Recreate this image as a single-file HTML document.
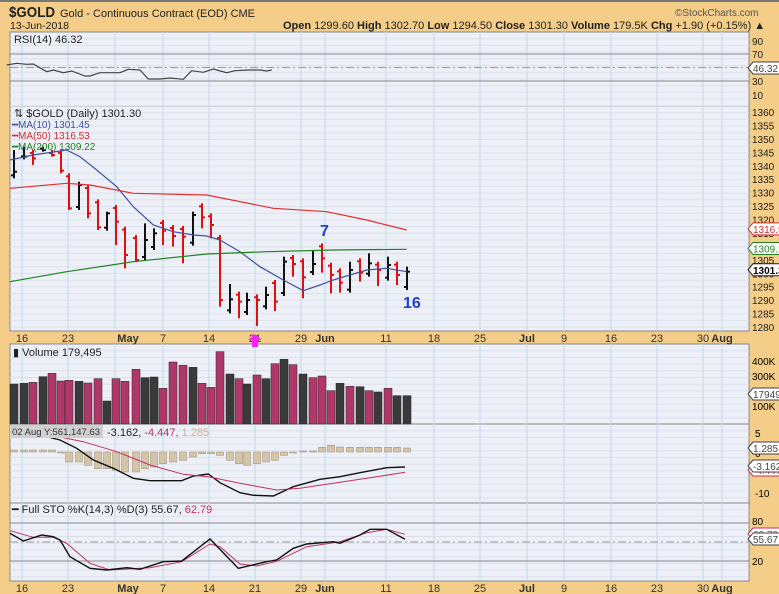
<!DOCTYPE html>
<html><head><meta charset="utf-8"><style>
body{margin:0;background:#f4cd88;}
svg{display:block;font-family:"Liberation Sans",sans-serif;}
</style></head><body>
<svg id="s" width="779" height="594" xmlns="http://www.w3.org/2000/svg"></svg>
<script>
const S=document.getElementById('s');let h='';
const L=10,R=749;
h+=`<rect width="779" height="594" fill="#f4cd88"/><rect width="779" height="2" fill="#777"/>`;
const P=[[32,106],[106,331],[344,424],[424,503],[503,581]];
P.forEach(p=>{h+=`<rect x="${L}" y="${p[0]}" width="${R-L}" height="${p[1]-p[0]}" fill="#eef0f8" stroke="#888" stroke-width="1"/>`;});
function hg(y0,y1,st){for(let y=y0+st;y<y1;y+=st)h+=`<line x1="${L}" x2="${R}" y1="${y}" y2="${y}" stroke="#dde0ec" stroke-width="1"/>`;}
P.forEach(p=>hg(p[0],p[1],6.7));
const vx=[22,68,115,163,209,255,301,325,386,434,480,527,564,611,657,703,722];
P.forEach(p=>vx.forEach(x=>{h+=`<line x1="${x}" x2="${x}" y1="${p[0]}" y2="${p[1]}" stroke="#bcdcee" stroke-width="1"/>`;}));
h+=`<text x="9" y="17" font-size="15" font-weight="bold" fill="#222" textLength="46" lengthAdjust="spacingAndGlyphs">$GOLD</text>`;
h+=`<text x="60" y="17" font-size="11" fill="#222">Gold - Continuous Contract (EOD) CME</text>`;
h+=`<text x="675" y="16" font-size="10" fill="#555">©StockCharts.com</text>`;
h+=`<text x="10" y="29" font-size="10.5" fill="#222">13-Jun-2018</text>`;
h+=`<text x="283" y="29" font-size="11" fill="#222"><tspan font-weight="bold">Open</tspan> 1299.60 <tspan font-weight="bold">High</tspan> 1302.70 <tspan font-weight="bold">Low</tspan> 1294.50 <tspan font-weight="bold">Close</tspan> 1301.30 <tspan font-weight="bold">Volume</tspan> 179.5K <tspan font-weight="bold">Chg</tspan> +1.90 (+0.15%) ▲</text>`;
[[54,'#888'],[81,'#888']].forEach(a=>h+=`<line x1="${L}" x2="${R}" y1="${a[0]}" y2="${a[0]}" stroke="${a[1]}"/>`);
h+=`<line x1="${L}" x2="${R}" y1="67.5" y2="67.5" stroke="#999" stroke-dasharray="8,3,2,3"/>`;
h+=`<text x="14" y="43" font-size="11" fill="#222">RSI(14) 46.32</text>`;
[[90,45],[70,58],[30,85],[10,99]].forEach(a=>h+=`<text x="752" y="${a[1]}" font-size="10" fill="#222">${a[0]}</text>`);
function pl(pts,c,w,sc){let s=pts.map(p=>[p[0]/3,p[1]/3+sc]).map(p=>p[0].toFixed(1)+','+p[1].toFixed(1)).join(' ');h+=`<polyline points="${s}" fill="none" stroke="${c}" stroke-width="${w}"/>`;}
pl([[20,195],[50,190],[80,193],[100,192],[140,215],[160,210],[190,218],[215,213],[255,228],[270,228],[300,218],[330,218],[360,218],[385,208],[420,210],[445,237],[480,237],[510,234],[550,238],[575,212],[610,217],[640,207],[680,218],[705,212],[745,210],[780,210],[800,213],[815,210]],'#444',1.2,0);
function box(x,y,t,c,bg){h+=`<path d="M${x},${y} l5,-6 h30 v12 h-30 z" fill="${bg||'#fff'}" stroke="${c}"/><text x="${x+5}" y="${y+4}" font-size="10" fill="${c=='#888'?'#222':c}">${t}</text>`;}
box(748,68,'46.32','#444');
const py=p=>112+(1360-p)*2.6875;
for(let p=1280;p<=1360;p+=5){h+=`<text x="752" y="${py(p)+4}" font-size="10" fill="#222">${p}</text>`;}
const bx=[14,24,33,43,52,61,69,79,88,98,107,116,125,136,145,154,163,173,183,193,202,211,220,230,239,247,257,266,275,284,293,303,313,322,331,340,350,360,369,378,388,397,407];
const B=[[150,235,215,'k'],[140,178,170,'k'],[150,195,175,'r'],[140,155,150,'k'],[150,170,165,'r'],[150,220,212,'r'],[220,330,325,'r'],[245,330,255,'k'],[255,355,340,'r'],[298,390,382,'r'],[335,392,340,'k'],[315,435,365,'r'],[380,505,465,'r'],[405,485,480,'r'],[370,480,420,'k'],[385,450,400,'k'],[360,435,392,'r'],[375,440,408,'r'],[378,490,410,'r'],[335,437,345,'k'],[310,385,352,'r'],[340,415,375,'r'],[405,620,600,'r'],[552,640,598,'k'],[575,655,605,'r'],[578,645,600,'k'],[583,678,600,'r'],[560,628,585,'k'],[540,633,605,'r'],[470,588,485,'k'],[465,530,492,'r'],[475,595,532,'r'],[452,525,492,'k'],[430,518,475,'r'],[488,580,525,'r'],[505,578,548,'r'],[485,578,510,'k'],[475,545,518,'r'],[460,530,490,'k'],[485,558,510,'r'],[470,542,495,'k'],[485,555,525,'r'],[500,570,515,'k']];
B.forEach((b,i)=>{const x=bx[i],c=b[3]=='k'?'#111':'#e01010';const t=100+b[0]/3,bt=100+b[1]/3,cl=100+b[2]/3;const op=b[3]=='k'?bt-3:t+3;
h+=`<line x1="${x}" x2="${x}" y1="${t}" y2="${bt}" stroke="${c}" stroke-width="2"/><line x1="${x-3}" x2="${x}" y1="${op}" y2="${op}" stroke="${c}" stroke-width="2"/><line x1="${x}" x2="${x+3}" y1="${cl}" y2="${cl}" stroke="${c}" stroke-width="2"/>`;});
pl([[30,180],[100,165],[200,150],[240,170],[290,210],[350,260],[400,320],[460,375],[520,395],[580,405],[620,408],[660,420],[720,455],[780,500],[850,540],[910,572],[960,555],[1000,540],[1050,525],[1100,510],[1160,505],[1220,515]],'#4050a0',1.2,100);
pl([[30,265],[200,250],[270,255],[400,280],[620,285],[820,325],[980,335],[1100,360],[1220,390]],'#e03030',1.2,100);
pl([[30,545],[200,515],[400,485],[620,462],[800,455],[1000,450],[1220,448]],'#208020',1.2,100);
h+=`<text x="14" y="117" font-size="11" fill="#222">⇅ $GOLD (Daily) 1301.30</text>`;
h+=`<text x="12" y="128" font-size="10" fill="#4050a0">━MA(10) 1301.45</text>`;
h+=`<text x="12" y="139" font-size="10" fill="#d03030">━MA(50) 1316.53</text>`;
h+=`<text x="12" y="150" font-size="10" fill="#208020">━MA(200) 1309.22</text>`;
h+=`<text x="320" y="236" font-size="16" font-weight="bold" fill="#2040d0">7</text>`;
h+=`<text x="403" y="308" font-size="16" font-weight="bold" fill="#2040d0">16</text>`;
box(748,py(1316.53),'1316.5','#d03030');box(748,py(1309.22),'1309.2','#208020');
h+=`<path d="M748,${py(1301.3)} l5,-6 h30 v12 h-30 z" fill="#fff" stroke="#222"/><text x="753" y="${py(1301.3)+4}" font-size="10" font-weight="bold">1301.3</text>`;
function dl(y){[['16',22],['23',68],['May',128,1],['7',163],['14',209],['21',255],['29',301],['Jun',325,1],['11',386],['18',434],['25',480],['Jul',527,1],['9',564],['16',611],['23',657],['30',703],['Aug',722,1]].forEach(a=>h+=`<text x="${a[1]}" y="${y}" font-size="11" text-anchor="middle" fill="#333" ${a[2]?'font-weight="bold"':''}>${a[0]}</text>`);}
dl(342);dl(592);
h+=`<path d="M255,334 l7,6 h-4 v7 h-6 v-7 h-4 z" fill="#ff20ff"/>`;
const V=[132,130,127,110,100,123,121,124,129,116,183,116,124,88,113,111,145,66,76,82,130,142,35,102,116,132,105,116,71,58,74,102,113,108,152,130,139,140,152,156,145,167,167];
const VC='kkrkrrrkrrkrrrkkrrrkrrrkrkrkrkrkrrrkrkrkrkk';
V.forEach((v,i)=>{const t=340+v/3;h+=`<rect x="${bx[i]-4}" y="${t}" width="8" height="${424-t}" fill="${VC[i]=='k'?'#3a3a3a':'#b03868'}" stroke="#222" stroke-width="0.5"/>`;});
h+=`<text x="13" y="356" font-size="11" fill="#222">▮ Volume 179,495</text>`;
[['400K',365],['300K',380],['100K',410]].forEach(a=>h+=`<text x="752" y="${a[1]}" font-size="10">${a[0]}</text>`);
box(748,394,'17949','#444');
const M=[6,6,6,6,6,0,-30,-30,-40,-50,-50,-55,-60,-60,-50,-45,-35,-30,-25,-15,-5,-5,-10,-25,-35,-40,-35,-30,-25,-10,-3,3,3,14,20,15,14,14,14,14,14,14,12];
M.forEach((m,i)=>{const v=m/3;h+=`<rect x="${bx[i]-3.5}" y="${v>0?452-v:452}" width="7" height="${Math.max(Math.abs(v),1)}" fill="#d4c4a8" stroke="#9a8a70" stroke-width="0.5"/>`;});
pl([[30,290],[100,280],[180,300],[230,325],[280,360],[340,385],[400,415],[450,422],[545,422],[580,408],[625,402],[660,428],[720,458],[760,466],[820,468],[880,440],[960,418],[1020,410],[1080,398],[1160,383],[1215,381]],'#111',1.4,340);
pl([[30,270],[150,285],[250,305],[350,335],[450,375],[550,403],[625,410],[720,430],[830,450],[900,445],[1000,430],[1100,415],[1215,397]],'#c03060',1,340);
h+=`<rect x="10" y="425" width="93" height="13" fill="#d0d0d0"/><text x="12" y="435" font-size="9.5" fill="#333">02 Aug Y:561,147.63</text>`;
h+=`<text x="107" y="436" font-size="11"><tspan fill="#222">-3.162,</tspan><tspan fill="#c03060"> -4.447,</tspan><tspan fill="#c8b090"> 1.285</tspan></text>`;
[['5',437],['0',457],['-10',497]].forEach(a=>h+=`<text x="755" y="${a[1]}" font-size="10">${a[0]}</text>`);
box(748,448,'1.285','#444');box(748,470,'-4.447','#c03060');box(748,466,'-3.162','#444');
[523,561].forEach(y=>h+=`<line x1="${L}" x2="${R}" y1="${y}" y2="${y}" stroke="#888"/>`);
h+=`<line x1="${L}" x2="${R}" y1="542" y2="542" stroke="#999" stroke-dasharray="8,3,2,3"/>`;
pl([[30,572],[100,592],[160,592],[200,610],[270,670],[330,690],[450,683],[545,665],[630,612],[660,620],[720,672],[770,678],[830,664],[920,620],[1020,605],[1100,578],[1160,568],[1215,583]],'#c03060',1,340);
pl([[30,580],[70,603],[125,585],[160,590],[180,600],[210,650],[270,685],[320,690],[380,683],[420,688],[490,665],[545,663],[630,597],[715,685],[800,665],[830,660],[880,625],[920,612],[1000,605],[1020,610],[1080,585],[1110,568],[1160,568],[1215,598]],'#111',1.4,340);
h+=`<text x="12" y="513" font-size="11"><tspan fill="#222">━ Full STO %K(14,3) %D(3) 55.67,</tspan><tspan fill="#c03060"> 62.79</tspan></text>`;
[['80',525],['20',565]].forEach(a=>h+=`<text x="752" y="${a[1]}" font-size="10">${a[0]}</text>`);
box(748,534,'62.79','#c03060');box(748,539,'55.67','#444');
S.innerHTML=h;
</script>
</body></html>
